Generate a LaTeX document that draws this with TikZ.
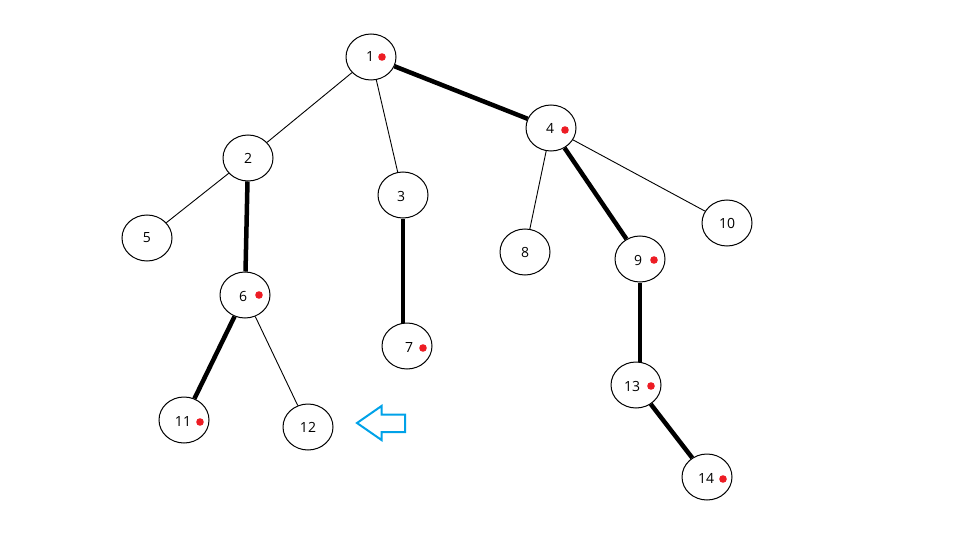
\documentclass[tikz,border=0pt]{standalone}
\usepackage{fontspec}
\setmainfont{Open Sans}
\usetikzlibrary{shapes.geometric,calc}
\definecolor{paintblue}{RGB}{0,162,232}
\definecolor{dotred}{RGB}{237,28,36}
\tikzset{
  tnode/.style={ellipse, draw=black, line width=1pt, minimum width=50pt, minimum height=46pt, inner sep=0pt, font=\fontsize{14}{14}\selectfont, fill=white},
  thinedge/.style={line width=0.9pt, black},
  thickedge/.style={line width=4.5pt, black},
  reddot/.style={fill=dotred},
  hollowarrow/.style={draw=paintblue, line width=2pt, line join=miter}
}
\begin{document}
\begin{tikzpicture}[x=1pt,y=-1pt]
\useasboundingbox (0,0) rectangle (960,540);
\coordinate (c1) at (371,57);
\coordinate (c2) at (248,158);
\coordinate (c3) at (403,195);
\coordinate (c4) at (551,128);
\coordinate (c5) at (147,238);
\coordinate (c6) at (245,295);
\coordinate (c7) at (407,346);
\coordinate (c8) at (525,252);
\coordinate (c9) at (640,259);
\coordinate (c10) at (727,223);
\coordinate (c11) at (184,420);
\coordinate (c12) at (308,427);
\coordinate (c13) at (636,385);
\coordinate (c14) at (707,477);

\node[tnode] (n1) at (c1) {};
\node[tnode] (n2) at (c2) {};
\node[tnode] (n3) at (c3) {};
\node[tnode] (n4) at (c4) {};
\node[tnode] (n5) at (c5) {};
\node[tnode] (n6) at (c6) {};
\node[tnode] (n7) at (c7) {};
\node[tnode] (n8) at (c8) {};
\node[tnode] (n9) at (c9) {};
\node[tnode] (n10) at (c10) {};
\node[tnode] (n11) at (c11) {};
\node[tnode] (n12) at (c12) {};
\node[tnode] (n13) at (c13) {};
\node[tnode] (n14) at (c14) {};

\draw[thinedge] (n1) -- (n2);
\draw[thinedge] (n1) -- (n3);
\draw[thinedge] (n2) -- (n5);
\draw[thinedge] (n4) -- (n8);
\draw[thinedge] (n4) -- (n10);
\draw[thinedge] (n6) -- (n12);
\draw[thickedge] (n1) -- (n4);
\draw[thickedge] (n2) -- (n6);
\draw[thickedge] (n3.south) -- (n3.south |- n7.north);
\draw[thickedge] (n4) -- (n9);
\draw[thickedge] (n6) -- (n11);
\draw[thickedge] (n9.south) -- (n9.south |- n13.north);
\draw[thickedge] (n13) -- (n14);

% labels
\tikzset{lbl/.style={font=\fontsize{14}{14}\selectfont, inner sep=0pt}}
\node[lbl] (t1) at ($(c1)+(-1,0)$) {1};
\node[lbl] (t2) at (c2) {2};
\node[lbl] (t3) at ($(c3)+(-2,1)$) {3};
\node[lbl] (t4) at ($(c4)+(-1,0)$) {4};
\node[lbl] (t5) at (c5) {5};
\node[lbl] (t6) at ($(c6)+(-2,1)$) {6};
\node[lbl] (t7) at ($(c7)+(2,1)$) {7};
\node[lbl] (t8) at (c8) {8};
\node[lbl] (t9) at ($(c9)+(-2,1)$) {9};
\node[lbl] (t10) at (c10) {10};
\node[lbl] (t11) at ($(c11)+(-1,1)$) {11};
\node[lbl] (t12) at (c12) {12};
\node[lbl] (t13) at ($(c13)+(-4,1)$) {13};
\node[lbl] (t14) at ($(c14)+(-1,1)$) {14};

% red dots
\fill[reddot] ($(c1)+(11,0)$) circle (3.8);
\fill[reddot] ($(c4)+(14,2)$) circle (3.8);
\fill[reddot] ($(c6)+(14,0)$) circle (3.8);
\fill[reddot] ($(c7)+(16,2)$) circle (3.8);
\fill[reddot] ($(c9)+(14,1)$) circle (3.8);
\fill[reddot] ($(c11)+(16,2)$) circle (3.8);
\fill[reddot] ($(c13)+(15,1)$) circle (3.8);
\fill[reddot] ($(c14)+(16,2)$) circle (3.8);

% hollow arrow
\draw[hollowarrow] (357,423) -- (381.5,406) -- (381.5,414.5) -- (405,414.5) -- (405,432) -- (381.5,432) -- (381.5,440) -- cycle;
\end{tikzpicture}
\end{document}
